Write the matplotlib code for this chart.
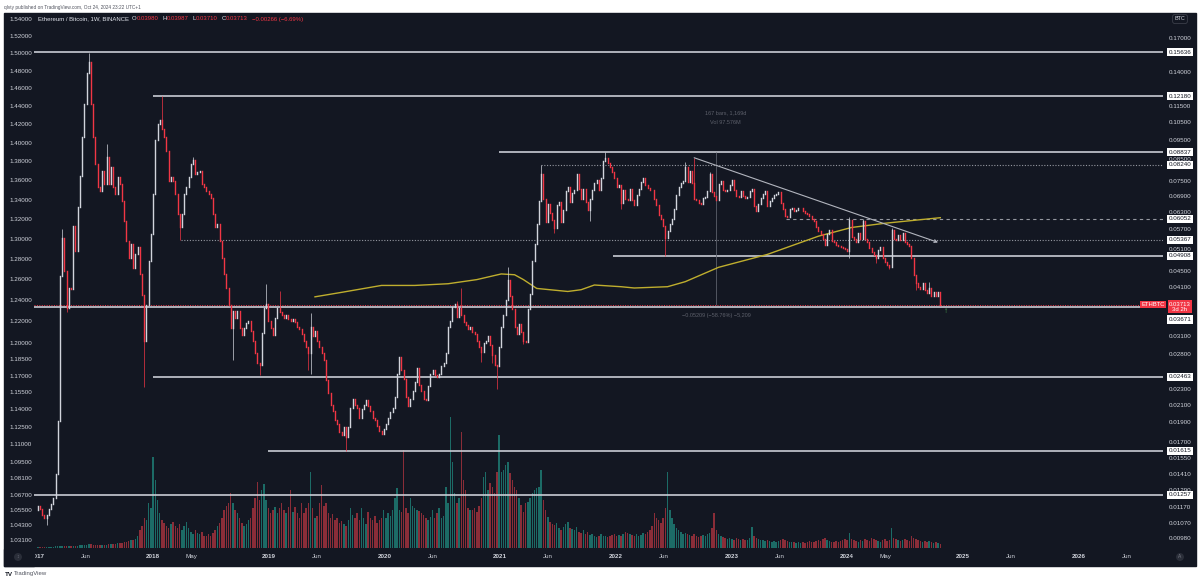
import datetime as dt

import matplotlib
matplotlib.use("Agg")
import matplotlib.pyplot as plt
import matplotlib.dates as mdates
import matplotlib.ticker as mticker
from matplotlib.patches import Rectangle
from matplotlib.transforms import blended_transform_factory
import numpy as np

plt.rcParams['font.family'] = ['Liberation Sans', 'DejaVu Sans']

# ---------------------------------------------------------------- data
first_week = dt.date(2017, 1, 2)      # weekly candles, Monday open
first_open = 0.0115

closes = [
    # 2017
    0.0118, 0.0116, 0.0112, 0.0110, 0.0112, 0.0116, 0.0119, 0.0123, 0.0141, 0.0191,
    0.0438, 0.0543, 0.0450, 0.0364, 0.0409, 0.0405, 0.0581, 0.0505, 0.0646, 0.0774,
    0.0966, 0.1166, 0.1385, 0.1478, 0.1166, 0.0966, 0.0828, 0.0724, 0.0710, 0.0796,
    0.0738, 0.0860, 0.0738, 0.0812, 0.0724, 0.0697, 0.0766, 0.0738, 0.0671, 0.0598,
    0.0534, 0.0485, 0.0524, 0.0457, 0.0494, 0.0514, 0.0441, 0.0393, 0.0301, 0.0371,
    0.0476, 0.0555,
    # 2018
    0.0696, 0.0946, 0.1040, 0.1060, 0.1010, 0.0966, 0.0893, 0.0752, 0.0770, 0.0752,
    0.0697, 0.0621, 0.0576, 0.0621, 0.0697, 0.0724, 0.0766, 0.0828, 0.0844, 0.0781,
    0.0789, 0.0796, 0.0738, 0.0724, 0.0710, 0.0697, 0.0683, 0.0621, 0.0576, 0.0587,
    0.0534, 0.0485, 0.0441, 0.0409, 0.0371, 0.0325, 0.0357, 0.0344, 0.0357, 0.0325,
    0.0313, 0.0325, 0.0335, 0.0338, 0.0319, 0.0301, 0.0282, 0.0266, 0.0263, 0.0315,
    0.0364, 0.0372,
    # 2019
    0.0338, 0.0325, 0.0313, 0.0344, 0.0364, 0.0356, 0.0350, 0.0344, 0.0350, 0.0341,
    0.0339, 0.0342, 0.0336, 0.0326, 0.0323, 0.0314, 0.0302, 0.0292, 0.0281, 0.0326,
    0.0311, 0.0319, 0.0302, 0.0292, 0.0281, 0.0271, 0.0241, 0.0224, 0.0210, 0.0203,
    0.0192, 0.0188, 0.0180, 0.0177, 0.0185, 0.0175, 0.0185, 0.0206, 0.0217, 0.0210,
    0.0206, 0.0195, 0.0205, 0.0210, 0.0216, 0.0208, 0.0203, 0.0195, 0.0192, 0.0186,
    0.0181, 0.0178,
    # 2020
    0.0183, 0.0188, 0.0195, 0.0201, 0.0206, 0.0219, 0.0250, 0.0275, 0.0255, 0.0243,
    0.0219, 0.0208, 0.0217, 0.0227, 0.0239, 0.0258, 0.0235, 0.0227, 0.0217, 0.0215,
    0.0233, 0.0250, 0.0255, 0.0249, 0.0246, 0.0250, 0.0261, 0.0266, 0.0281, 0.0326,
    0.0339, 0.0366, 0.0373, 0.0345, 0.0364, 0.0350, 0.0336, 0.0330, 0.0323, 0.0326,
    0.0317, 0.0314, 0.0302, 0.0292, 0.0284, 0.0298, 0.0302, 0.0311, 0.0295, 0.0278,
    0.0263, 0.0261,
    # 2021
    0.0292, 0.0326, 0.0350, 0.0380, 0.0426, 0.0389, 0.0361, 0.0326, 0.0314, 0.0332,
    0.0317, 0.0302, 0.0300, 0.0361, 0.0394, 0.0477, 0.0523, 0.0589, 0.0671, 0.0783,
    0.0677, 0.0594, 0.0659, 0.0624, 0.0600, 0.0574, 0.0654, 0.0667, 0.0594, 0.0636,
    0.0708, 0.0727, 0.0667, 0.0700, 0.0712, 0.0783, 0.0718, 0.0677, 0.0718, 0.0667,
    0.0636, 0.0677, 0.0712, 0.0741, 0.0755, 0.0712, 0.0762, 0.0840, 0.0855, 0.0831,
    0.0815, 0.0791,
    # 2022
    0.0762, 0.0727, 0.0733, 0.0661, 0.0712, 0.0679, 0.0672, 0.0719, 0.0672, 0.0656,
    0.0693, 0.0719, 0.0746, 0.0764, 0.0733, 0.0723, 0.0715, 0.0712, 0.0679, 0.0656,
    0.0618, 0.0603, 0.0580, 0.0542, 0.0566, 0.0587, 0.0606, 0.0641, 0.0693, 0.0725,
    0.0741, 0.0752, 0.0811, 0.0746, 0.0796, 0.0741, 0.0679, 0.0675, 0.0662, 0.0660,
    0.0683, 0.0685, 0.0709, 0.0783, 0.0706, 0.0688, 0.0675, 0.0737, 0.0751, 0.0715,
    0.0709, 0.0715,
    # 2023
    0.0733, 0.0757, 0.0715, 0.0688, 0.0685, 0.0709, 0.0688, 0.0680, 0.0685, 0.0709,
    0.0717, 0.0652, 0.0633, 0.0659, 0.0683, 0.0696, 0.0710, 0.0652, 0.0671, 0.0683,
    0.0693, 0.0699, 0.0706, 0.0662, 0.0640, 0.0615, 0.0613, 0.0640, 0.0643, 0.0634,
    0.0635, 0.0642, 0.0643, 0.0634, 0.0627, 0.0621, 0.0615, 0.0605, 0.0598, 0.0579,
    0.0566, 0.0555, 0.0540, 0.0520, 0.0556, 0.0568, 0.0533, 0.0530, 0.0520, 0.0518,
    0.0515, 0.0511, 0.0509,
    # 2024
    0.0505, 0.0600, 0.0546, 0.0539, 0.0530, 0.0557, 0.0539, 0.0598, 0.0539, 0.0530,
    0.0511, 0.0501, 0.0492, 0.0483, 0.0507, 0.0516, 0.0483, 0.0474, 0.0465, 0.0459,
    0.0569, 0.0539, 0.0537, 0.0551, 0.0535, 0.0557, 0.0530, 0.0524, 0.0518, 0.0483,
    0.0440, 0.0419, 0.0411, 0.0405, 0.0419, 0.0404, 0.0396, 0.0409, 0.0389, 0.0399,
    0.0389, 0.0398, 0.03713,
]

# notable wicks, keyed by week number
wick_high = {11: 0.0572, 23: 0.1556, 31: 0.0929, 56: 0.1218, 70: 0.0860, 103: 0.0418,
             109: 0.0401, 123: 0.0354, 189: 0.0379, 191: 0.0408, 212: 0.0460,
             227: 0.0824, 256: 0.0884, 292: 0.0835, 296: 0.0857, 303: 0.0790,
             366: 0.0610, 372: 0.0606, 385: 0.0574, 402: 0.0421, 407: 0.03987}
wick_low = {4: 0.0106, 13: 0.0355, 48: 0.0232, 64: 0.05367, 88: 0.0270, 100: 0.0249,
            122: 0.0256, 123: 0.0250, 139: 0.01615, 200: 0.0268, 205: 0.0266,
            207: 0.0230, 219: 0.0297, 233: 0.0558, 249: 0.0599, 263: 0.0640,
            283: 0.04908, 366: 0.0485, 378: 0.0471, 384: 0.0455, 396: 0.0404,
            407: 0.0371}

volume = [
    1, 1, 1, 1, 1, 1, 1, 1, 2, 2, 2, 2, 2, 2, 2, 2, 2, 2, 2, 3,
    3, 3, 3, 4, 4, 3, 3, 3, 3, 3, 3, 3, 4, 4, 4, 4, 5, 5, 5, 6,
    6, 7, 8, 8, 9, 12, 18, 22, 30, 28, 45, 40,
    91, 68, 48, 35, 28, 25, 22, 20, 24, 26, 22, 20,
    24, 18, 22, 26, 20, 16, 14, 18, 15, 14, 16, 12,
    12, 14, 12, 15, 18, 22, 25, 30, 38, 42, 45, 55,
    45, 38, 35, 30, 25, 22, 24, 28, 30, 40, 50, 66,
    48, 58, 64, 48, 40, 35, 38, 41, 35, 40, 45, 38,
    35, 41, 58, 36, 41, 35, 30, 45, 35, 40, 45, 76,
    40, 30, 32, 45, 63, 42, 45, 35, 30, 34, 28, 30,
    25, 27, 24, 22, 28, 40, 33, 30, 35, 28, 40, 30,
    24, 36, 30, 28, 32, 25, 28, 30, 38, 30, 35, 32,
    38, 50, 60, 38, 36, 98, 40, 35, 50, 42, 40, 38,
    37, 35, 33, 30, 28, 31, 38, 30, 35, 40, 30, 32,
    61, 45, 131, 86, 55, 45, 50, 116, 68, 58, 40, 38,
    38, 40, 36, 42, 50, 71, 76, 58, 65, 61, 55, 76,
    113, 76, 78, 83, 86, 75, 68, 61, 58, 50, 43, 36,
    45, 46, 50, 55, 58, 60, 61, 78, 48, 38, 31, 26,
    24, 23, 25, 20, 18, 21, 24, 26, 20, 19, 18, 21,
    16, 15, 18, 14, 16, 13, 14, 12, 11, 12, 14, 12,
    12, 11, 12, 13, 14, 12, 13, 12, 14, 16, 15, 14,
    13, 12, 14, 12, 13, 15, 14, 16, 18, 22, 35, 30,
    28, 25, 30, 40, 76, 38, 30, 24, 20, 18, 16, 14,
    15, 14, 13, 12, 14, 12, 11, 12, 13, 12, 14, 15,
    20, 35, 18, 14, 12, 11, 10, 9, 10, 9, 8, 10,
    9, 8, 9, 8, 8, 10, 21, 12, 10, 9, 8, 8,
    7, 8, 7, 6, 7, 6, 7, 8, 9, 8, 7, 6,
    6, 6, 5, 6, 5, 6, 5, 6, 7, 6, 6, 7,
    8, 7, 9, 10, 8, 7, 6, 6, 7, 6, 7, 8,
    9, 8, 15, 9, 8, 7, 6, 8, 7, 9, 8, 7,
    10, 9, 8, 7, 6, 8, 9, 7, 8, 20, 10, 9,
    8, 7, 8, 9, 8, 7, 12, 10, 9, 8, 7, 6,
    7, 6, 7, 6, 5, 6, 5, 4,
]

# yellow moving average, read at a few weeks
ma_weeks = [125, 137, 155, 170, 185, 198, 209, 215, 219, 225, 239, 245, 251, 263,
            269, 284, 292, 307, 329, 352, 367, 382, 407]
ma_values = [0.0388, 0.0398, 0.0414, 0.0414, 0.0418, 0.0428, 0.0442, 0.0440, 0.0428,
             0.0407, 0.0400, 0.0404, 0.0415, 0.0411, 0.0408, 0.0411, 0.0423, 0.0459,
             0.0494, 0.0548, 0.0576, 0.0590, 0.0609]

# horizontal levels: price, start date (None = left edge), style
levels = [
    (0.15636, None, 'solid'),
    (0.12180, '2018-01-01', 'solid'),
    (0.08837, '2020-12-28', 'solid'),
    (0.08240, '2021-05-10', 'dotted'),
    (0.06052, '2023-06-21', 'dashed'),
    (0.05367, '2018-03-30', 'dotted'),
    (0.04908, '2021-12-22', 'solid'),
    (0.03671, None, 'solid'),
    (0.02463, '2018-01-01', 'solid'),
    (0.01615, '2018-12-30', 'solid'),
    (0.01257, None, 'solid'),
]
last_price = 0.03713

trend_dates = ['2022-09-05', '2024-10-14']
trend_prices = [0.0857, 0.0529]
measure_date = '2022-11-14'
measure_prices = [0.0884, 0.03713]

right_ticks = [0.17, 0.14, 0.115, 0.105, 0.095, 0.085, 0.075, 0.069, 0.063, 0.057,
               0.051, 0.045, 0.041, 0.031, 0.028, 0.023, 0.021, 0.019, 0.017, 0.0155,
               0.0141, 0.0129, 0.0117, 0.0107, 0.0098]
left_ticks = [1.54, 1.52, 1.50, 1.48, 1.46, 1.44, 1.42, 1.40, 1.38, 1.36, 1.34, 1.32,
              1.30, 1.28, 1.26, 1.24, 1.22, 1.20, 1.185, 1.17, 1.155, 1.14, 1.125,
              1.11, 1.095, 1.081, 1.067, 1.055, 1.043, 1.031]
x_ticks = ['2017-01-01', '2017-06-01', '2018-01-01', '2018-05-01', '2019-01-01',
           '2019-06-01', '2020-01-01', '2020-06-01', '2021-01-01', '2021-06-01',
           '2022-01-01', '2022-06-01', '2023-01-01', '2023-06-01', '2024-01-01',
           '2024-05-01', '2025-01-01', '2025-06-01', '2026-01-01', '2026-06-01']
x_labels = ['2017', 'Jun', '2018', 'May', '2019', 'Jun', '2020', 'Jun', '2021', 'Jun',
            '2022', 'Jun', '2023', 'Jun', '2024', 'May', '2025', 'Jun', '2026', 'Jun']

# ---------------------------------------------------------------- style
BG = '#131722'
UP = '#d1d4dc'
DOWN = '#f23645'
TXT = '#d1d4dc'
W, H = 1200, 582


def fx(px):
    return px / W


def fy(py):
    return 1 - py / H


def dnum(s):
    return mdates.date2num(dt.date.fromisoformat(s))


fig = plt.figure(figsize=(12, 5.82), dpi=100, facecolor='white')
fig.add_artist(Rectangle((fx(4), fy(566)), fx(1192), (566 - 13) / H,
                         transform=fig.transFigure, color=BG, zorder=-1))

rect = [fx(34), fy(548), fx(1163 - 34), (548 - 13) / H]
vax = fig.add_axes(rect)
ax = fig.add_axes(rect)
lax = fig.add_axes(rect)

xmin, xmax = dnum('2016-12-21'), dnum('2026-09-24')

# volume
n = len(closes)
xd = mdates.date2num([first_week + dt.timedelta(weeks=i) for i in range(n)])
c = np.array(closes)
o = np.array([first_open] + closes[:-1])
up = c >= o
hi = np.array([wick_high.get(i, max(o[i], c[i])) for i in range(n)])
lo = np.array([wick_low.get(i, min(o[i], c[i])) for i in range(n)])

vax.set_facecolor(BG)
vax.bar(xd, volume, width=4.6, color=np.where(up, '#1c6b66', '#8a2d38'), linewidth=0)
vax.set_ylim(0, max(volume) * 535 / 131)
vax.set_xlim(xmin, xmax)
vax.axis('off')

# candles
ax.set_zorder(2)
ax.patch.set_visible(False)
cols = np.where(up, UP, DOWN)
ax.vlines(xd, lo, hi, colors=cols, linewidth=0.5, zorder=4)
body = ax.vlines(xd, np.minimum(o, c), np.maximum(o, c), colors=cols,
                 linewidth=1.0, zorder=5)
body.set_capstyle('projecting')

ax.set_yscale('log')
ax.set_ylim(0.009274, 0.1955)
ax.set_xlim(xmin, xmax)

# moving average
ma_x = [xd[w] for w in ma_weeks]
ax.plot(ma_x, ma_values, color='#bfae2e', lw=1.0, zorder=3)

# levels
for price, start, style in levels:
    x0 = xmin if start is None else dnum(start)
    if style == 'solid':
        ax.hlines(price, x0, xmax, color='#c9ccd4', lw=1.2, zorder=2)
    elif style == 'dotted':
        ax.hlines(price, x0, xmax, color='#9598a1', lw=0.8, linestyles=(0, (1, 1.5)), zorder=2)
    else:
        ax.hlines(price, x0, xmax, color='#9598a1', lw=0.8, linestyles=(0, (3, 3)), zorder=2)
ax.hlines(last_price, xmin, xmax, color=DOWN, lw=0.7, linestyles=(0, (1, 1.5)), zorder=2)

# trend line with arrow
ax.annotate('', xy=(dnum(trend_dates[1]), trend_prices[1]),
            xytext=(dnum(trend_dates[0]), trend_prices[0]),
            arrowprops=dict(arrowstyle='->', color='#b2b5be', lw=0.8,
                            shrinkA=0, shrinkB=0, mutation_scale=5), zorder=6)

# measure tool
mx = dnum(measure_date)
ax.vlines(mx, measure_prices[1], measure_prices[0], color='#5d606b', lw=0.6, zorder=2)
ax.text(mx + 30, 0.1106, '167 bars, 1,169d', fontsize=4, color='#5d606b',
        ha='center', va='center')
ax.text(mx + 30, 0.1047, 'Vol 97.576M', fontsize=4, color='#5d606b',
        ha='center', va='center')
ax.text(mx, 0.0348, '\u22120.05209 (\u221258.76%) \u22125,209', fontsize=4,
        color='#5d606b', ha='center', va='center')
ax.text(xd[-1] + 18, 0.0356, '\u2191', fontsize=6, color='#4caf50',
        ha='center', va='center', fontweight='bold')

# axes styling
for a in (ax, lax):
    for s in a.spines.values():
        s.set_visible(False)
ax.yaxis.tick_right()
ax.set_yticks(right_ticks)
ax.set_yticklabels([f'{v:.5f}' for v in right_ticks])
ax.yaxis.set_minor_locator(mticker.NullLocator())
ax.tick_params(axis='y', length=0, pad=4.3, labelsize=4.5, labelcolor=TXT)
ax.set_xticks([dnum(s) for s in x_ticks])
ax.set_xticklabels(x_labels)
ax.tick_params(axis='x', length=0, pad=4.5, labelsize=4.5, labelcolor=TXT)
for lab in ax.get_xticklabels():
    if lab.get_text().isdigit():
        lab.set_fontweight('bold')

lax.patch.set_visible(False)
lax.set_yscale('log')
lax.set_ylim(1.0245, 1.5471)
lax.set_yticks(left_ticks)
lax.set_yticklabels([f'{v:.5f}' for v in left_ticks])
lax.yaxis.set_minor_locator(mticker.NullLocator())
lax.tick_params(axis='y', length=0, pad=1.5, labelsize=4.5, labelcolor=TXT)
lax.xaxis.set_visible(False)

# price label boxes on the right axis
bt = blended_transform_factory(ax.transAxes, ax.transData)
xlab = (1180 - 34) / (1163 - 34)
for price, start, style in levels:
    if price == 0.03671:
        continue
    ax.text(xlab, price, f'{price:.5f}', transform=bt, ha='center', va='center',
            fontsize=4.5, color=BG, clip_on=False, zorder=10,
            bbox=dict(boxstyle='square,pad=0.25', fc='white', ec='none'))
ax.annotate('0.03671', xy=(xlab, 0.03671), xycoords=bt, xytext=(0, -13),
            textcoords='offset pixels', ha='center', va='center', fontsize=4.5,
            color=BG, annotation_clip=False, zorder=10,
            bbox=dict(boxstyle='square,pad=0.25', fc='white', ec='none'))
ax.annotate('0.03713\n3d 2h', xy=(xlab, last_price), xycoords=bt, xytext=(0, 3),
            textcoords='offset pixels', ha='center', va='top', fontsize=4.3,
            color='white', linespacing=1.1, annotation_clip=False, zorder=11,
            bbox=dict(boxstyle='square,pad=0.25', fc=DOWN, ec='none'))
ax.text((1153 - 34) / (1163 - 34), last_price, 'ETHBTC', transform=bt, ha='center',
        va='center', fontsize=4.2, color='white', clip_on=False, zorder=11,
        bbox=dict(boxstyle='square,pad=0.25', fc=DOWN, ec='none'))

# header
t = fig.text(fx(38), fy(19), 'Ethereum / Bitcoin, 1W, BINANCE', fontsize=4.3,
             color='#e0e3eb', va='center')
header = [('O', '#e0e3eb', 2), ('0.03980', DOWN, 0.3), ('H', '#e0e3eb', 2.5),
          ('0.03987', DOWN, 0.3), ('L', '#e0e3eb', 2.5), ('0.03710', DOWN, 0.3),
          ('C', '#e0e3eb', 2.5), ('0.03713', DOWN, 0.3),
          ('\u22120.00266 (\u22126.69%)', DOWN, 3)]
for s, col, gap in header:
    t = ax.annotate(s, xy=(1, 0.5), xycoords=t, xytext=(gap, 0),
                    textcoords='offset points', va='center', ha='left',
                    fontsize=4.3, color=col, annotation_clip=False, zorder=12)

fig.text(fx(1180), fy(19), 'BTC', fontsize=4, color=TXT, ha='center', va='center',
         bbox=dict(boxstyle='round,pad=0.35', fc=BG, ec='#434651', lw=0.5))

# cover for the clipped first year label, plus corner buttons
fig.add_artist(Rectangle((fx(4), fy(566)), fx(30), (566 - 549) / H,
                         transform=fig.transFigure, color=BG, zorder=5))
fig.text(fx(18), fy(557), '\u2195', fontsize=3.5, color='#787b86', ha='center',
         va='center', zorder=6,
         bbox=dict(boxstyle='circle,pad=0.3', fc='#2a2e39', ec='none'))
fig.text(fx(1180), fy(557), 'A', fontsize=3.5, color='#787b86', ha='center',
         va='center', zorder=6,
         bbox=dict(boxstyle='circle,pad=0.3', fc='#2a2e39', ec='none'))

# outer captions
fig.text(fx(4), fy(7), 'qlvty published on TradingView.com, Oct 24, 2024 23:22 UTC+1',
         fontsize=3.4, color='#50535e', va='center')
fig.text(fx(5), fy(574), 'TV', fontsize=4.5, color=BG, fontweight='bold', va='center')
fig.text(fx(14), fy(574), 'TradingView', fontsize=4.3, color='#50535e', va='center')

fig.savefig('out.png', dpi=100, facecolor='white')
